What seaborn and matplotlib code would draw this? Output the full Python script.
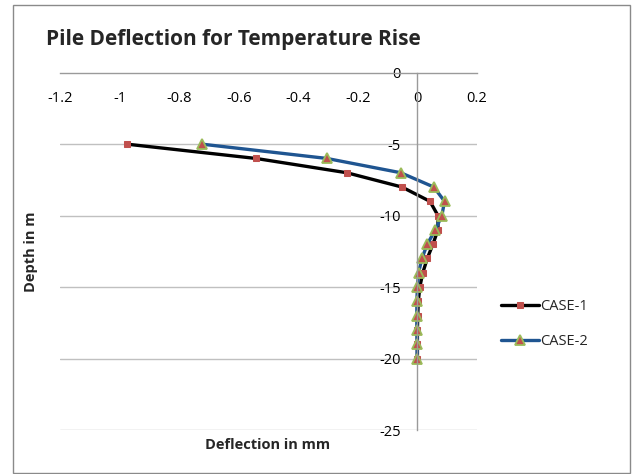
import matplotlib
matplotlib.use("Agg")
import matplotlib.pyplot as plt
import seaborn as sns
import pandas as pd
from matplotlib.patches import Rectangle

depth = [-5, -6, -7, -8, -9, -10, -11, -12, -13, -14, -15, -16, -17, -18, -19, -20]
case1 = [-0.975, -0.542, -0.237, -0.052, 0.042, 0.069, 0.069, 0.052, 0.033, 0.018,
         0.008, 0.003, 0.001, 0.0, 0.0, 0.0]
case2 = [-0.723, -0.304, -0.056, 0.055, 0.091, 0.082, 0.060, 0.033, 0.015, 0.004,
         0.0, -0.002, -0.002, -0.002, -0.001, -0.001]
xticks = [-1.2, -1, -0.8, -0.6, -0.4, -0.2, 0, 0.2]
xticklabels = ["-1.2", "-1", "-0.8", "-0.6", "-0.4", "-0.2", "0", "0.2"]
yticks = [0, -5, -10, -15, -20, -25]

sns.set_style("white")
plt.rcParams['font.family'] = ['Open Sans', 'DejaVu Sans']

W, H = 634, 474
fig = plt.figure(figsize=(W / 100, H / 100), dpi=100)
ax = fig.add_axes([60 / W, 1 - 430 / H, (477 - 60) / W, (430 - 72.7) / H])

df1 = pd.DataFrame({"x": case1, "y": depth})
df2 = pd.DataFrame({"x": case2, "y": depth})

sns.lineplot(data=df1, x="x", y="y", sort=False, estimator=None, orient="y", ax=ax,
             color="black", linewidth=2.4, marker="s", markersize=4,
             markerfacecolor="#c0504d", markeredgecolor="#c0504d", label="CASE-1")
sns.lineplot(data=df2, x="x", y="y", sort=False, estimator=None, orient="y", ax=ax,
             color="#1f5591", linewidth=2.4, marker="^", markersize=7,
             markerfacecolor="#c0504d", markeredgecolor="#9bbb59", markeredgewidth=1.3,
             label="CASE-2")

ax.set_xlim(-1.2, 0.2)
ax.set_ylim(-25, 0)
ax.set_xticks(xticks)
ax.set_xticklabels(xticklabels)
ax.set_yticks(yticks)
ax.set_yticklabels([str(v) for v in yticks])
ax.tick_params(axis="both", length=0, labelsize=10.5, colors="black")
ax.tick_params(axis="x", pad=13)
ax.tick_params(axis="y", pad=12)

for y in [-5, -10, -15, -20, -25]:
    ax.axhline(y, color="#c0c0c0", linewidth=1, zorder=0)

ax.spines["right"].set_visible(False)
ax.spines["top"].set_visible(False)
ax.spines["bottom"].set_position(("data", 0))
ax.spines["left"].set_position(("data", 0))
ax.spines["bottom"].set_color("#9a9a9a")
ax.spines["left"].set_color("#9a9a9a")
ax.spines["bottom"].set_linewidth(1)
ax.spines["left"].set_linewidth(1)
ax.set_xlabel("")
ax.set_ylabel("")

ax.legend(loc="center left", bbox_to_anchor=(488 / W, 1 - 324 / H),
          bbox_transform=fig.transFigure, frameon=False, fontsize=10.5,
          handlelength=2.6, labelspacing=1.4, handletextpad=0.1)

fig.text(46 / W, 1 - 39 / H, "Pile Deflection for Temperature Rise",
         fontsize=15, fontweight="bold", ha="left", va="center")
fig.text(268 / W, 1 - 445 / H, "Deflection in mm", fontsize=10.5, fontweight="bold",
         ha="center", va="center")
fig.text(31 / W, 1 - 252 / H, "Depth in m", fontsize=10.5, fontweight="bold",
         ha="center", va="center", rotation=90)

fig.patches.append(Rectangle((13 / W, 1 / H), (630 - 13) / W, (469 - 1) / H,
                             transform=fig.transFigure, fill=False,
                             edgecolor="#8a8a8a", linewidth=1))

fig.savefig("out.png", dpi=100)
